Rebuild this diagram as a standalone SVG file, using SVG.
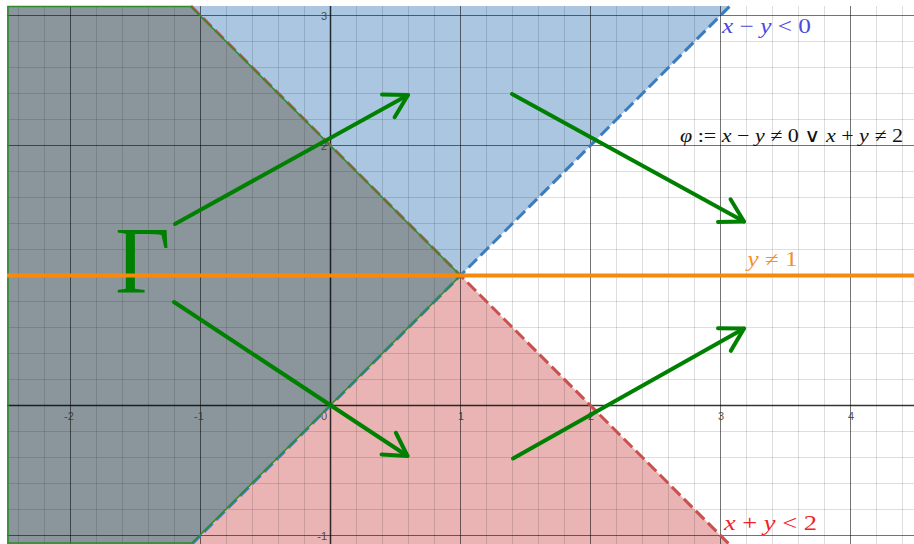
<svg xmlns="http://www.w3.org/2000/svg" width="914" height="544" viewBox="0 0 914 544">
<defs>
<style>
.minor{stroke:#000;stroke-opacity:0.13;stroke-width:1;fill:none}
.major{stroke:#000;stroke-opacity:0.55;stroke-width:1;fill:none}
.axis{stroke:#000;stroke-opacity:0.8;stroke-width:1.5;fill:none}
.tick{font-family:"Liberation Sans","DejaVu Sans",sans-serif;font-size:11px;fill:#333;fill-opacity:0.85}
.math{font-family:"Liberation Serif","DejaVu Serif",serif}
.arrow{stroke:#008000;stroke-width:4;fill:none;stroke-linecap:round;stroke-linejoin:round;marker-end:url(#ah)}
</style>
<marker id="ah" viewBox="-30 -18 36 36" refX="0" refY="0" markerWidth="36" markerHeight="36" markerUnits="userSpaceOnUse" orient="auto" overflow="visible">
<path d="M-22.5 -13L0 0L-22.5 13" fill="none" stroke="#008000" stroke-width="4" stroke-linecap="round" stroke-linejoin="round"/>
</marker>
</defs>
<rect x="0" y="0" width="914" height="544" fill="#fff"/>
<g id="regions">
<polygon id="blue-region" points="191,6 730,6 460.5,275.5" fill="#abc6e1"/>
<polygon id="red-region" points="460.5,275.5 729,544 192,544" fill="#e9b4b3"/>
<polygon id="gamma-region" points="7,6 191,6 460.5,275.5 192,544 7,544" fill="#8a969b"/>
</g>
<g id="grid">
<path class="minor" d="M18.5 6V544M44.5 6V544M96.5 6V544M122.5 6V544M148.5 6V544M174.5 6V544M226.5 6V544M252.5 6V544M278.5 6V544M304.5 6V544M356.5 6V544M382.5 6V544M408.5 6V544M434.5 6V544M486.5 6V544M512.5 6V544M538.5 6V544M564.5 6V544M616.5 6V544M642.5 6V544M668.5 6V544M694.5 6V544M746.5 6V544M772.5 6V544M798.5 6V544M824.5 6V544M876.5 6V544M902.5 6V544"/>
<path class="minor" d="M7 41.5H914M7 67.5H914M7 93.5H914M7 119.5H914M7 171.5H914M7 197.5H914M7 223.5H914M7 249.5H914M7 301.5H914M7 327.5H914M7 353.5H914M7 379.5H914M7 431.5H914M7 457.5H914M7 483.5H914M7 509.5H914"/>
<path class="major" d="M70.5 6V544M200.5 6V544M460.5 6V544M590.5 6V544M720.5 6V544M850.5 6V544M7 15.5H914M7 145.5H914M7 275.5H914M7 535.5H914"/>
<path class="axis" d="M330.5 6V544M7 405.5H914"/>
</g>
<g id="ticks">
<text class="tick" x="69" y="419.5" text-anchor="middle">-2</text>
<text class="tick" x="199" y="419.5" text-anchor="middle">-1</text>
<text class="tick" x="327" y="419.5" text-anchor="end">0</text>
<text class="tick" x="461" y="419.5" text-anchor="middle">1</text>
<text class="tick" x="591" y="419.5" text-anchor="middle">2</text>
<text class="tick" x="721" y="419.5" text-anchor="middle">3</text>
<text class="tick" x="851" y="419.5" text-anchor="middle">4</text>
<text class="tick" x="327" y="19.5" text-anchor="end">3</text>
<text class="tick" x="327" y="150" text-anchor="end">2</text>
<text class="tick" x="327" y="539.5" text-anchor="end">-1</text>
</g>
<g id="boundaries">
<path d="M192 544L730 6" stroke="#3a7cc0" stroke-width="3" stroke-dasharray="12 5" fill="none"/>
<path d="M191 6L729 544" stroke="#c9504d" stroke-width="3" stroke-dasharray="12 5" fill="none"/>
<polygon id="gamma-outline" points="8,6.5 191,6.5 460.5,275.5 192,543 8,543" fill="none" stroke="#2e8b2e" stroke-width="1.5"/>
</g>
<g id="gamma">
<text class="math" x="115" y="293" font-size="96" fill="#008000">Γ</text>
</g>
<g id="y-ne-1">
<line x1="7" y1="275.5" x2="914" y2="275.5" stroke="#f78a0a" stroke-width="4"/>
<text class="math" x="747.5" y="265.5" font-size="20" fill="#f4902a" textLength="50" lengthAdjust="spacingAndGlyphs"><tspan font-style="italic">y</tspan> ≠ 1</text>
</g>
<g id="labels">
<text class="math" x="722" y="33" font-size="21" fill="#4a4ae0" textLength="89" lengthAdjust="spacingAndGlyphs"><tspan font-style="italic">x</tspan> − <tspan font-style="italic">y</tspan> &lt; 0</text>
<text class="math" x="680" y="141.5" font-size="19" fill="#111" textLength="223" lengthAdjust="spacingAndGlyphs"><tspan font-style="italic">φ</tspan> := <tspan font-style="italic">x</tspan> − <tspan font-style="italic">y</tspan> ≠ 0 ∨ <tspan font-style="italic">x</tspan> + <tspan font-style="italic">y</tspan> ≠ 2</text>
<text class="math" x="724" y="530" font-size="21" fill="#f2212a" textLength="93" lengthAdjust="spacingAndGlyphs"><tspan font-style="italic">x</tspan> + <tspan font-style="italic">y</tspan> &lt; 2</text>
</g>
<g id="connectors">
<path class="arrow" d="M175 224L408 95"/>
<path class="arrow" d="M512 94L744 221.5"/>
<path class="arrow" d="M174 302L407.5 456"/>
<path class="arrow" d="M513 458.5L744 328.5"/>
</g>
</svg>
